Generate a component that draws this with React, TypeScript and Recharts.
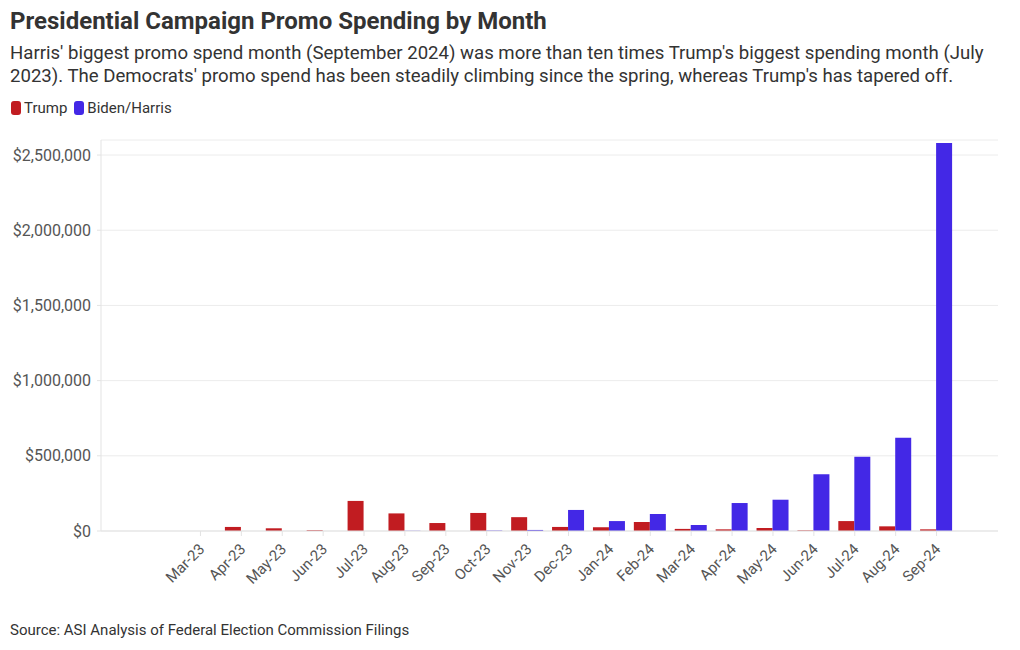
import React from "react";
import { BarChart, Bar, XAxis, YAxis, CartesianGrid } from "recharts";

const months = [
  "Mar-23", "Apr-23", "May-23", "Jun-23", "Jul-23", "Aug-23", "Sep-23", "Oct-23", "Nov-23", "Dec-23",
  "Jan-24", "Feb-24", "Mar-24", "Apr-24", "May-24", "Jun-24", "Jul-24", "Aug-24", "Sep-24",
];
const trump = [
  0, 27000, 18000, 5000, 200000, 117000, 53000, 120000, 92000, 27000,
  25000, 60000, 14000, 11000, 20000, 4000, 66000, 31000, 11000,
];
const bidenHarris = [
  0, 0, 0, 0, 0, 1500, 0, 3000, 7000, 140000,
  66000, 113000, 40000, 186000, 208000, 377000, 494000, 620000, 2580000,
];
const yTicks = [0, 500000, 1000000, 1500000, 2000000, 2500000];

const RED = "#c11c21";
const BLUE = "#4328e6";
const FONT = "Roboto, 'Noto Sans', sans-serif";

const data = months.map((m, i) => ({ month: m, trump: trump[i], biden: bidenHarris[i] }));

const money = (v: number) => "$" + v.toLocaleString("en-US");

function MonthTick({ x, y, payload }: any) {
  return (
    <g transform={`translate(${x + 5},${y + 12})`}>
      <text textAnchor="end" transform="rotate(-45)" fontSize={15} fill="#555" fontFamily={FONT}>
        {payload.value}
      </text>
    </g>
  );
}

function LegendRow() {
  const items = [
    { name: "Trump", color: RED },
    { name: "Biden/Harris", color: BLUE },
  ];
  return (
    <div style={{ display: "flex", alignItems: "center", fontFamily: FONT, fontSize: 15, color: "#333" }}>
      {items.map((it) => (
        <div key={it.name} style={{ display: "flex", alignItems: "center", marginRight: 7 }}>
          <span style={{ display: "inline-block", width: 10, height: 14, borderRadius: 3, background: it.color, marginRight: 3 }} />
          {it.name}
        </div>
      ))}
    </div>
  );
}

export default function App() {
  return (
    <div style={{ position: "absolute", left: 0, top: 0, width: 1020, height: 650, background: "#fff", fontFamily: FONT }}>
      <BarChart
        width={1020}
        height={650}
        data={data}
        margin={{ top: 140, right: 22, bottom: 59, left: 10 }}
        barGap={0}
      >
        <CartesianGrid vertical={false} stroke="#ececec" />
        <XAxis
          dataKey="month"
          interval={0}
          height={60}
          padding={{ left: 79, right: 41 }}
          axisLine={{ stroke: "#e3e3e3" }}
          tickLine={{ stroke: "#e3e3e3" }}
          tickSize={5}
          tick={<MonthTick />}
        />
        <YAxis
          width={91}
          domain={[0, 2600000]}
          ticks={yTicks}
          allowDataOverflow
          tickFormatter={money}
          axisLine={{ stroke: "#e3e3e3" }}
          tickLine={{ stroke: "#e3e3e3" }}
          tickSize={4}
          tick={{ fontSize: 16, fill: "#555", fontFamily: FONT, dx: -4 }}
        />
        <Bar dataKey="trump" name="Trump" fill={RED} barSize={16} isAnimationActive={false} />
        <Bar dataKey="biden" name="Biden/Harris" fill={BLUE} barSize={16} isAnimationActive={false} />
      </BarChart>
      <div style={{ position: "absolute", left: 10, top: 7, fontSize: 24, fontWeight: 700, color: "#333" }}>
        Presidential Campaign Promo Spending by Month
      </div>
      <div style={{ position: "absolute", left: 10, top: 42, width: 1005, fontSize: 18.6, lineHeight: "23px", color: "#333" }}>
        Harris' biggest promo spend month (September 2024) was more than ten times Trump's biggest spending month (July
        <br />
        2023). The Democrats' promo spend has been steadily climbing since the spring, whereas Trump's has tapered off.
      </div>
      <div style={{ position: "absolute", left: 11, top: 99 }}>
        <LegendRow />
      </div>
      <div style={{ position: "absolute", left: 10, top: 621, fontSize: 15, color: "#333" }}>
        Source: ASI Analysis of Federal Election Commission Filings
      </div>
    </div>
  );
}
